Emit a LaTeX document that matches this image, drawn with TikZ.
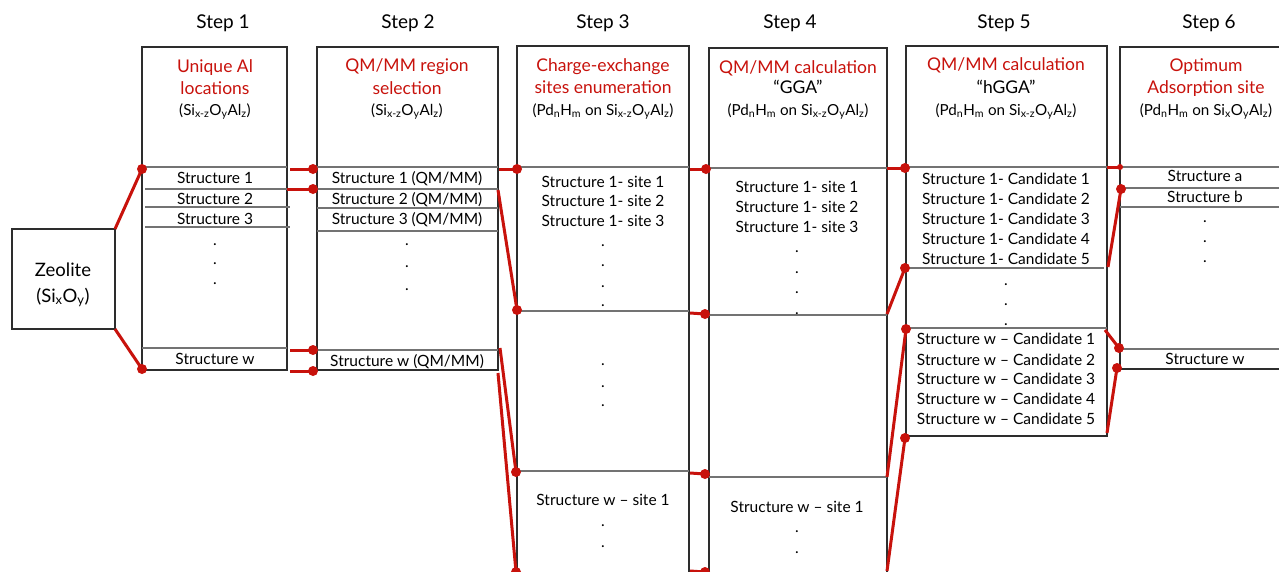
\documentclass[tikz,border=0pt]{standalone}
\usepackage{fontspec}
\setmainfont{Lato}
\definecolor{dred}{RGB}{200,18,12}
\definecolor{boxgray}{RGB}{45,45,45}
\definecolor{rowgray}{RGB}{115,115,115}
\newcommand{\ssb}[1]{\textsubscript{#1}}
\begin{document}
\begin{tikzpicture}[x=1pt,y=-1pt,
  stepbox/.style={draw=boxgray, line width=1.5pt, anchor=north west, inner sep=0pt, outer sep=0pt},
  rowline/.style={draw=rowgray, line width=1.1pt},
  conn/.style={draw=dred, line width=3pt},
  dotc/.style={circle, fill=dred, inner sep=0pt, minimum size=10pt},
  steplbl/.style={font=\fontsize{19}{22}\selectfont, anchor=base, inner sep=0pt},
  ttl/.style={font=\fontsize{17.5}{22}\selectfont, text=dred, anchor=base, inner sep=0pt},
  ttlb/.style={font=\fontsize{17.5}{22}\selectfont, anchor=base, inner sep=0pt},
  subt/.style={font=\fontsize{15.2}{18}\selectfont, anchor=base, inner sep=0pt},
  txt/.style={font=\fontsize{15.5}{18}\selectfont, anchor=base, inner sep=0pt},
  zt/.style={font=\fontsize{18.5}{20}\selectfont, anchor=base, inner sep=0pt}
]
\useasboundingbox (0,0) rectangle (1279,571);
\fill[white] (0,0) rectangle (1279,571);

% step labels
\node[steplbl] (s1) at (223,28) {Step 1};
\node[steplbl] (s2) at (408,28) {Step 2};
\node[steplbl] (s3) at (603,28) {Step 3};
\node[steplbl] (s4) at (790,28) {Step 4};
\node[steplbl] (s5) at (1004,28) {Step 5};
\node[steplbl] (s6) at (1209,28) {Step 6};

% boxes
\node[stepbox, minimum width=103pt, minimum height=100pt] (zeo) at (12,229) {};
\node[stepbox, minimum width=145pt, minimum height=323pt] (b1) at (142,47) {};
\node[stepbox, minimum width=181pt, minimum height=323pt] (b2) at (317,47) {};
\node[stepbox, minimum width=172pt, minimum height=560pt] (b3) at (517,46) {};
\node[stepbox, minimum width=178pt, minimum height=560pt] (b4) at (709,48) {};
\node[stepbox, minimum width=201pt, minimum height=390pt] (b5) at (906,46) {};
\node[stepbox, minimum width=180pt, minimum height=322pt] (b6) at (1120,47) {};

% zeolite text
\node[zt] (z1) at (63,276) {Zeolite};
\node[zt] (z2) at (63,302) {(Si\ssb{x}O\ssb{y})};

% row lines
\draw[rowline] (142,167) -- (287,167);
\draw[rowline] (145,189) -- (290,189);
\draw[rowline] (145,207) -- (290,207);
\draw[rowline] (145,227) -- (290,227);
\draw[rowline] (142,348) -- (287,348);

\draw[rowline] (317,167) -- (498,167);
\draw[rowline] (317,189) -- (498,189);
\draw[rowline] (317,208) -- (498,208);
\draw[rowline] (317,231) -- (498,231);
\draw[rowline] (317,350) -- (498,350);

\draw[rowline] (517,167) -- (689,167);
\draw[rowline] (517,311) -- (689,311);
\draw[rowline] (517,471) -- (689,471);

\draw[rowline] (709,168) -- (887,168);
\draw[rowline] (709,315) -- (887,315);
\draw[rowline] (709,477) -- (887,477);

\draw[rowline] (906,167) -- (1107,167);
\draw[rowline] (906,268) -- (1104,268);
\draw[rowline] (906,328) -- (1107,328);

\draw[rowline] (1120,167) -- (1300,167);
\draw[rowline] (1120,188) -- (1300,188);
\draw[rowline] (1120,207) -- (1300,207);
\draw[rowline] (1120,349) -- (1300,349);

% titles
\node[ttl] (t1a) at (215,72) {Unique Al};
\node[ttl] (t1b) at (215,94) {locations};
\node[subt] (t1c) at (215,115) {(Si\ssb{x-z}O\ssb{y}Al\ssb{z})};

\node[ttl] (t2a) at (407,71) {QM/MM region};
\node[ttl] (t2b) at (407,94) {selection};
\node[subt] (t2c) at (407,115) {(Si\ssb{x-z}O\ssb{y}Al\ssb{z})};

\node[ttl] (t3a) at (603,71) {Charge-exchange};
\node[ttl] (t3b) at (603,93) {sites enumeration};
\node[subt] (t3c) at (603,115) {(Pd\ssb{n}H\ssb{m} on Si\ssb{x-z}O\ssb{y}Al\ssb{z})};

\node[ttl] (t4a) at (798,73) {QM/MM calculation};
\node[ttlb] (t4b) at (798,93) {“GGA”};
\node[subt] (t4c) at (798,115) {(Pd\ssb{n}H\ssb{m} on Si\ssb{x-z}O\ssb{y}Al\ssb{z})};

\node[ttl] (t5a) at (1006,70) {QM/MM calculation};
\node[ttlb] (t5b) at (1006,93) {“hGGA”};
\node[subt] (t5c) at (1006,115) {(Pd\ssb{n}H\ssb{m} on Si\ssb{x-z}O\ssb{y}Al\ssb{z})};

\node[ttl] (t6a) at (1206,71) {Optimum};
\node[ttl] (t6b) at (1206,93) {Adsorption site};
\node[subt] (t6c) at (1206,115) {(Pd\ssb{n}H\ssb{m} on Si\ssb{x}O\ssb{y}Al\ssb{z})};

% box 1 content
\node[txt] (b1r1) at (215,183) {Structure 1};
\node[txt] (b1r2) at (215,204) {Structure 2};
\node[txt] (b1r3) at (215,224) {Structure 3};
\foreach \y [count=\i] in {245,264,284} \node[txt, name=b1d\i] at (215,\y) {.};
\node[txt] (b1rw) at (215,364) {Structure w};

% box 2 content
\node[txt] (b2r1) at (407,183) {Structure 1 (QM/MM)};
\node[txt] (b2r2) at (407,204) {Structure 2 (QM/MM)};
\node[txt] (b2r3) at (407,224) {Structure 3 (QM/MM)};
\foreach \y [count=\i] in {245,267,290} \node[txt, name=b2d\i] at (407,\y) {.};
\node[txt] (b2rw) at (407,366) {Structure w (QM/MM)};

% box 3 content
\node[txt] (b3r1) at (603,187) {Structure 1- site 1};
\node[txt] (b3r2) at (603,206) {Structure 1- site 2};
\node[txt] (b3r3) at (603,226) {Structure 1- site 3};
\foreach \y [count=\i] in {246,266,287,306,365,387,406} \node[txt, name=b3d\i] at (603,\y) {.};
\node[txt] (b3rw) at (603,505) {Structure w – site 1};
\foreach \y [count=\i] in {526,547} \node[txt, name=b3e\i] at (603,\y) {.};

% box 4 content
\node[txt] (b4r1) at (797,192) {Structure 1- site 1};
\node[txt] (b4r2) at (797,212) {Structure 1- site 2};
\node[txt] (b4r3) at (797,232) {Structure 1- site 3};
\foreach \y [count=\i] in {252,273,293,314} \node[txt, name=b4d\i] at (797,\y) {.};
\node[txt] (b4rw) at (797,512) {Structure w – site 1};
\foreach \y [count=\i] in {532,553} \node[txt, name=b4e\i] at (797,\y) {.};

% box 5 content
\foreach \y [count=\i] in {184,204,224,244,264}
  \node[txt, name=b5r\i] at (1006,\y) {Structure 1- Candidate \i};
\foreach \y [count=\i] in {285,305,325} \node[txt, name=b5d\i] at (1006,\y) {.};
\foreach \y [count=\i] in {344,365,384,404,424}
  \node[txt, name=b5w\i] at (1006,\y) {Structure w – Candidate \i};

% box 6 content
\node[txt] (b6ra) at (1205,181) {Structure a};
\node[txt] (b6rb) at (1205,202) {Structure b};
\foreach \y [count=\i] in {222,242,262} \node[txt, name=b6d\i] at (1205,\y) {.};
\node[txt] (b6rw) at (1205,364) {Structure w};

% connector dots
\node[dotc] (d1) at (142,169) {};
\node[dotc] (d2) at (142,369) {};
\node[dotc] (d3) at (313,169) {};
\node[dotc] (d4) at (313,189) {};
\node[dotc] (d5) at (313,350) {};
\node[dotc] (d6) at (313,371) {};
\node[dotc] (d7) at (517,169) {};
\node[dotc] (d8) at (517,310) {};
\node[dotc] (d9) at (516,472) {};
\node[dotc] (d10) at (516,572) {};
\node[dotc] (d11) at (706,169) {};
\node[dotc] (d12) at (705,314) {};
\node[dotc] (d13) at (705,474) {};
\node[dotc] (d14) at (705,572) {};
\node[dotc] (d15) at (905,168) {};
\node[dotc] (d16) at (905,268) {};
\node[dotc] (d17) at (906,329) {};
\node[dotc] (d18) at (905,438) {};
\node[dotc, minimum size=6pt] (d19) at (1120,167) {};
\node[dotc] (d20) at (1121,189) {};
\node[dotc] (d21) at (1119,348) {};
\node[dotc] (d22) at (1117,368) {};

% connector free ends
\coordinate (e3) at (290,169);
\coordinate (e4) at (287,189);
\coordinate (e5) at (290,350);
\coordinate (e6) at (290,371);
\coordinate (e7) at (499,169);
\coordinate (e8) at (498,190);
\coordinate (e9) at (500,348);
\coordinate (e10) at (498,373);
\coordinate (e11) at (690,169);
\coordinate (e12) at (690,313);
\coordinate (e13) at (690,473);
\coordinate (e14) at (690,571);
\coordinate (e15) at (887,168);
\coordinate (e16) at (887,314);
\coordinate (e17) at (887,477);
\coordinate (e18) at (887,571);
\coordinate (e19) at (1107,167);
\coordinate (e20) at (1108,267);
\coordinate (e21) at (1105,330);
\coordinate (e22) at (1107,433);

% connectors
\draw[conn] (zeo.north east) -- (d1.center);
\draw[conn] (zeo.south east) -- (d2.center);
\foreach \i in {3,...,22} \draw[conn] (e\i) -- (d\i.center);
\end{tikzpicture}
\end{document}
